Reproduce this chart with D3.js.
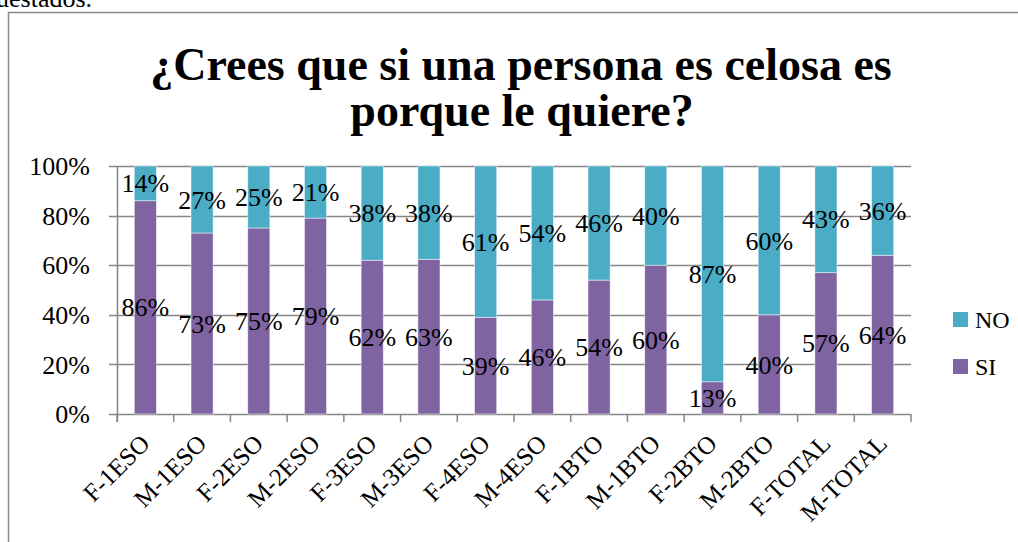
<!DOCTYPE html>
<html>
<head>
<meta charset="utf-8">
<script src="https://cdn.jsdelivr.net/npm/d3@7"></script>
<style>
  body { margin: 0; background: #fff; }
  svg { display: block; }
  text { font-family: "Liberation Serif", serif; fill: #000; }
</style>
</head>
<body>
<svg width="1018" height="542"></svg>
<script>
const categories = ["F-1ESO", "M-1ESO", "F-2ESO", "M-2ESO", "F-3ESO", "M-3ESO", "F-4ESO",
    "M-4ESO", "F-1BTO", "M-1BTO", "F-2BTO", "M-2BTO", "F-TOTAL", "M-TOTAL"];
const siValues = [86, 73, 75, 79, 62, 63, 39, 46, 54, 60, 13, 40, 57, 64];
const noValues = [14, 27, 25, 21, 38, 38, 61, 54, 46, 40, 87, 60, 43, 36];
const yTicks = [0, 0.2, 0.4, 0.6, 0.8, 1];
const seriesNames = ["SI", "NO"];
const colors = { SI: "#8064A2", NO: "#4BACC6" };

const svg = d3.select("svg");

// bit of document text cut off above the chart
svg.append("text")
    .attr("x", -4)
    .attr("y", 7)
    .style("font-size", "26px")
    .text("uestados.");

// chart frame (runs past the right and bottom edge)
svg.append("path")
    .attr("d", "M8.5,1100 V12.5 H1100")
    .attr("fill", "none")
    .attr("stroke", "#898989")
    .attr("stroke-width", 1.5);

const title = svg.append("text")
    .attr("text-anchor", "middle")
    .style("font-size", "46px")
    .style("font-weight", "bold");
title.append("tspan").attr("x", 521).attr("y", 80).text("¿Crees que si una persona es celosa es");
title.append("tspan").attr("x", 522).attr("y", 126).text("porque le quiere?");

const plotLeft = 117, plotRight = 911, plotTop = 166, plotBottom = 414;

const x = d3.scaleBand()
    .domain(categories)
    .range([plotLeft, plotRight])
    .paddingInner(0.61)
    .paddingOuter(0.305);

const y = d3.scaleLinear().domain([0, 1]).range([plotBottom, plotTop]);

// gridlines
svg.append("g")
    .selectAll("line")
    .data(yTicks)
    .join("line")
    .attr("x1", plotLeft - 8)
    .attr("x2", plotRight)
    .attr("y1", d => Math.round(y(d)) + 0.5)
    .attr("y2", d => Math.round(y(d)) + 0.5)
    .attr("stroke", "#868686")
    .attr("stroke-width", 1.5);

// y labels
svg.append("g")
    .selectAll("text")
    .data(yTicks)
    .join("text")
    .attr("x", 90)
    .attr("y", d => y(d))
    .attr("dy", "0.35em")
    .attr("text-anchor", "end")
    .style("font-size", "26px")
    .text(d => d3.format(".0%")(d));

// stacked data, normalised to 100%
const table = categories.map((c, i) => ({ cat: c, SI: siValues[i], NO: noValues[i] }));
const stack = d3.stack().keys(seriesNames).offset(d3.stackOffsetExpand);
const layers = stack(table);

const layer = svg.append("g")
    .selectAll("g")
    .data(layers)
    .join("g")
    .attr("fill", d => colors[d.key]);

layer.selectAll("rect")
    .data(d => d)
    .join("rect")
    .attr("x", d => x(d.data.cat))
    .attr("width", x.bandwidth())
    .attr("y", d => y(d[1]))
    .attr("height", d => y(d[0]) - y(d[1]))
    .attr("stroke", "#fff")
    .attr("stroke-opacity", 0.6)
    .attr("stroke-width", 0.8);

// axes lines
svg.append("line")
    .attr("x1", plotLeft + 0.5).attr("x2", plotLeft + 0.5)
    .attr("y1", plotTop).attr("y2", plotBottom + 8)
    .attr("stroke", "#868686").attr("stroke-width", 1.5);

const step = (plotRight - plotLeft) / categories.length;
svg.append("g")
    .selectAll("line")
    .data(d3.range(categories.length + 1))
    .join("line")
    .attr("x1", d => plotLeft + d * step)
    .attr("x2", d => plotLeft + d * step)
    .attr("y1", plotBottom)
    .attr("y2", plotBottom + 8)
    .attr("stroke", "#868686")
    .attr("stroke-width", 1.5);

// value labels
layer.selectAll("text")
    .data(d => d.map(v => Object.assign({ key: d.key }, v)))
    .join("text")
    .attr("x", d => x(d.data.cat) + x.bandwidth() / 2)
    .attr("y", d => (y(d[0]) + y(d[1])) / 2)
    .attr("dy", "0.35em")
    .attr("text-anchor", "middle")
    .style("font-size", "26px")
    .text(d => d.data[d.key] + "%");

// category labels
svg.append("g")
    .selectAll("text")
    .data(categories)
    .join("text")
    .attr("text-anchor", "end")
    .attr("transform", d => `translate(${x(d) + x.bandwidth() / 2 + 6},${plotBottom + 31}) rotate(-45)`)
    .style("font-size", "25px")
    .text(d => d);

// legend
const legend = svg.append("g")
    .selectAll("g")
    .data(["NO", "SI"])
    .join("g")
    .attr("transform", (d, i) => `translate(953,${312 + i * 47})`);

legend.append("rect")
    .attr("width", 15).attr("height", 15)
    .attr("fill", d => colors[d]);

legend.append("text")
    .attr("x", 22)
    .attr("y", 8)
    .attr("dy", "0.35em")
    .style("font-size", "24px")
    .text(d => d);
</script>
</body>
</html>
